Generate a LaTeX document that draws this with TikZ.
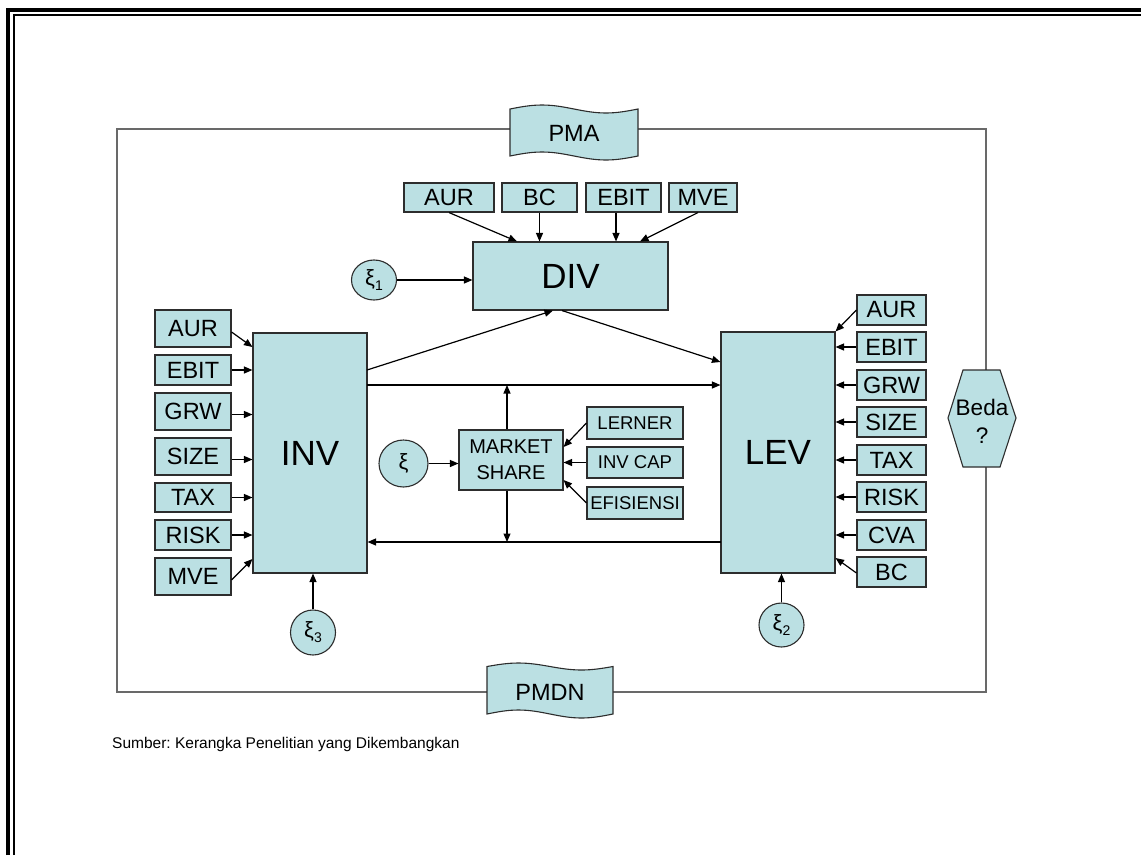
\documentclass[tikz,border=0pt]{standalone}
\usepackage{fontspec}
\setmainfont{Liberation Sans}
\frenchspacing
\usetikzlibrary{arrows.meta,shapes.geometric,calc}
\definecolor{boxfill}{RGB}{187,224,227}
\definecolor{framecol}{RGB}{105,105,105}
\definecolor{edgecol}{RGB}{45,45,45}
\begin{document}
\begin{tikzpicture}[x=1pt,y=-1pt,
  sz/.style 2 args={minimum width=#1pt, minimum height=#2pt},
  box/.style={draw=edgecol, line width=1.1pt, fill=boxfill, inner sep=0pt, font=\fontsize{23.5}{26}\selectfont},
  bigbox/.style={box, font=\fontsize{35}{40}\selectfont},
  smallbox/.style={box, font=\fontsize{18.5}{21}\selectfont},
  xinode/.style={ellipse, draw=edgecol, line width=1.1pt, fill=boxfill, inner sep=0pt, font=\fontsize{22}{24}\selectfont},
  shapeline/.style={draw=edgecol, line width=1.1pt, fill=boxfill},
  arr/.style={-{Triangle[length=8.5pt,width=7pt]}, line width=1.2pt},
  lbl/.style={inner sep=0pt, font=\fontsize{23.5}{26}\selectfont}
]
\useasboundingbox (0,0) rectangle (1141,855);

% page border
\draw[line width=4.2pt] (8.3,855) -- (8.3,10.2) -- (1141,10.2);
\draw[line width=2.2pt] (13.9,855) -- (13.9,14.8) -- (1141,14.8);

% inner frame
\draw[framecol, line width=1.3pt] (117,129) rectangle (986,692);

% PMA tape
\path[shapeline] (510,109) sin (542,105) cos (574,109) sin (606,113) cos (638,109)
  -- (638,156) sin (606,160) cos (574,156) sin (542,152) cos (510,156) -- cycle;
\node[lbl] (pma) at (574,133) {PMA};

% PMDN tape
\path[shapeline] (487,666.5) sin (518.5,663) cos (550,666.5) sin (581.5,670) cos (613,666.5)
  -- (613,714) sin (581.5,718) cos (550,714) sin (518.5,710) cos (487,714) -- cycle;
\node[lbl] (pmdn) at (550,692) {PMDN};

% Beda hexagon
\path[shapeline] (948,418) -- (963,370) -- (1000,370) -- (1016,418) -- (1000,467) -- (963,467) -- cycle;
\node[inner sep=0pt, align=center, font=\fontsize{22.5}{28}\selectfont] (beda) at (982,421) {Beda\\?};

% main boxes
\node[bigbox, sz={195}{68}] (div) at (570.5,276) {DIV};
\node[bigbox, sz={114}{240}] (inv) at (310,453) {INV};
\node[bigbox, sz={114}{241}] (lev) at (778,452.5) {LEV};

% top boxes
\node[box, sz={90}{29}] (taur) at (449,197.5) {AUR};
\node[box, sz={75}{29}] (tbc) at (539.5,197.5) {BC};
\node[box, sz={75}{29}] (tebit) at (623.5,197.5) {EBIT};
\node[box, sz={68}{29}] (tmve) at (703,197.5) {MVE};

% left boxes
\node[box, sz={76}{37}] (laur) at (193,328.5) {AUR};
\node[box, sz={76}{30}] (lebit) at (193,370) {EBIT};
\node[box, sz={76}{37}] (lgrw) at (193,411.5) {GRW};
\node[box, sz={76}{37}] (lsize) at (193,456.5) {SIZE};
\node[box, sz={76}{29}] (ltax) at (193,497.5) {TAX};
\node[box, sz={76}{30}] (lrisk) at (193,535) {RISK};
\node[box, sz={76}{37}] (lmve) at (193,576.5) {MVE};

% right boxes
\node[box, sz={69}{30}] (raur) at (891.5,310) {AUR};
\node[box, sz={69}{30}] (rebit) at (891.5,347) {EBIT};
\node[box, sz={69}{30}] (rgrw) at (891.5,385) {GRW};
\node[box, sz={69}{30}] (rsize) at (891.5,422) {SIZE};
\node[box, sz={69}{30}] (rtax) at (891.5,460) {TAX};
\node[box, sz={69}{30}] (rrisk) at (891.5,497) {RISK};
\node[box, sz={69}{30}] (rcva) at (891.5,535) {CVA};
\node[box, sz={69}{30}] (rbc) at (891.5,572) {BC};

% market share and its inputs
\node[box, sz={104}{60}, align=center, font=\fontsize{20}{26}\selectfont] (ms) at (511,460) {MARKET\\SHARE};
\node[smallbox, sz={96}{32}] (lerner) at (635,423) {LERNER};
\node[smallbox, sz={96}{31}] (invcap) at (635,462.5) {INV CAP};
\node[smallbox, sz={96}{32}] (efi) at (635,503) {EFISIENSI};

% xi nodes
\node[xinode, sz={45}{40}] (xi1) at (374,280) {ξ\raisebox{-5pt}{\fontsize{14}{14}\selectfont 1}};
\node[xinode, sz={45}{45}] (xi3) at (313,632.5) {ξ\raisebox{-5pt}{\fontsize{14}{14}\selectfont 3}};
\node[xinode, sz={45}{44}] (xi2) at (781.5,625) {ξ\raisebox{-5pt}{\fontsize{14}{14}\selectfont 2}};
\node[xinode, sz={49}{47}] (xi) at (403.5,463.5) {ξ};

% source
\node[anchor=base west, inner sep=0pt, font=\fontsize{15.5}{18}\selectfont] (src) at (112,748) {Sumber: Kerangka Penelitian yang Dikembangkan};

% connectors: top boxes -> DIV
\draw[arr] (taur.south) -- ([xshift=-53.5pt]div.north);
\draw[arr] (tbc.south) -- (tbc.south |- div.north);
\draw[arr] ([xshift=-7.5pt]tebit.south) -- ([xshift=-7.5pt]tebit.south |- div.north);
\draw[arr] ([xshift=-5pt]tmve.south) -- ([xshift=69.5pt]div.north);
\draw[arr] (xi1.east) -- (xi1.east -| div.west);

% left inputs -> INV
\draw[arr] ([yshift=-3.5pt]laur.east) -- ([yshift=106pt]inv.west);
\draw[arr] (lebit.east) -- (lebit.east -| inv.west);
\draw[arr] ([yshift=-3pt]lgrw.east) -- ([yshift=-3pt]lgrw.east -| inv.west);
\draw[arr] ([yshift=-3pt]lsize.east) -- ([yshift=-3pt]lsize.east -| inv.west);
\draw[arr] (ltax.east) -- (ltax.east -| inv.west);
\draw[arr] (lrisk.east) -- (lrisk.east -| inv.west);
\draw[arr] ([yshift=-3.5pt]lmve.east) -- ([yshift=-106pt]inv.west);
\draw[arr] (xi3.north) -- (xi3.north |- inv.south);

% right inputs -> LEV
\draw[arr] (raur.west) -- (lev.north east);
\draw[arr] (rebit.west) -- (rebit.west -| lev.east);
\draw[arr] (rgrw.west) -- (rgrw.west -| lev.east);
\draw[arr] (rsize.west) -- (rsize.west -| lev.east);
\draw[arr] (rtax.west) -- (rtax.west -| lev.east);
\draw[arr] (rrisk.west) -- (rrisk.west -| lev.east);
\draw[arr] (rcva.west) -- (rcva.west -| lev.east);
\draw[arr] ([yshift=-1pt]rbc.west) -- ([yshift=-105.5pt]lev.east);
\draw[arr] (xi2.north) -- (xi2.north |- lev.south);

% INV <-> DIV <-> LEV
\coordinate (invdiv) at (367,370);
\draw[arr] (invdiv) -- ([xshift=-17.5pt]div.south);
\draw[arr] ([xshift=-8.5pt]div.south) -- ([yshift=90.5pt]lev.west);

% INV -> LEV and LEV -> INV
\coordinate (hA) at (367,385);
\coordinate (hB) at (721,542);
\draw[arr] (hA) -- (hA -| lev.west);
\draw[arr] (hB) -- (hB -| inv.east);

% market share links
\draw[arr] ([xshift=-4pt]ms.north) -- ([xshift=-4pt]ms.north |- hA);
\draw[arr] ([xshift=-4pt]ms.south) -- ([xshift=-4pt]ms.south |- hB);
\draw[arr] (xi.east) -- (xi.east -| ms.west);
\draw[arr] (lerner.west) -- ([yshift=13pt]ms.east);
\draw[arr] (invcap.west) -- (invcap.west -| ms.east);
\draw[arr] (efi.west) -- ([yshift=-20pt]ms.east);
\end{tikzpicture}
\end{document}
